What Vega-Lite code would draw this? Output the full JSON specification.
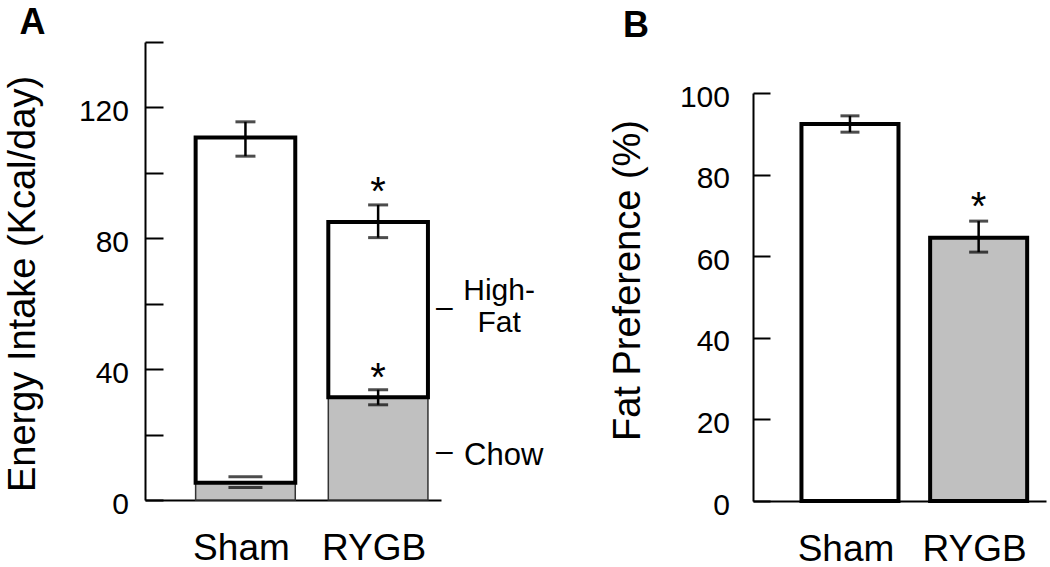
{
  "$schema": "https://vega.github.io/schema/vega-lite/v6.json",
  "background": "white",
  "padding": {"left": 4, "top": 5, "right": 5, "bottom": 5},
  "bounds": "flush",
  "spacing": 312,
  "config": {
    "font": "Liberation Sans",
    "view": {"stroke": null},
    "axis": {
      "domainColor": "black", "domainWidth": 2, "tickColor": "black", "tickWidth": 2,
      "labelColor": "black", "titleColor": "black", "grid": false,
      "labelFont": "Liberation Sans", "titleFont": "Liberation Sans", "titleFontWeight": "normal"
    }
  },
  "datasets": {
    "intake": [
      {"group": "Sham", "chow": 5.3, "chow_lo": 3.8, "chow_hi": 7.1, "total": 110.8, "total_lo": 105.1, "total_hi": 115.6},
      {"group": "RYGB", "chow": 31.4, "chow_lo": 29.1, "chow_hi": 33.7, "total": 85.0, "total_lo": 80.2, "total_hi": 90.2}
    ],
    "pref": [
      {"group": "Sham", "pref": 92.4, "lo": 90.4, "hi": 94.4},
      {"group": "RYGB", "pref": 64.5, "lo": 61.0, "hi": 68.6}
    ],
    "diet": [
      {"diet": "High-Fat", "label": ["High-", "Fat"], "pos": 58.4},
      {"diet": "Chow", "label": "Chow", "pos": 14.5}
    ]
  },
  "hconcat": [
    {
      "width": 296,
      "height": 458,
      "title": {"text": "A", "anchor": "start", "frame": "group", "dx": -125.5, "offset": -29, "baseline": "alphabetic", "fontSize": 36, "fontWeight": "bold", "font": "Liberation Sans", "color": "black"},
      "layer": [
        {
          "data": {"name": "intake"},
          "mark": {"type": "bar", "fill": "#c0c0c0", "stroke": "#333333", "strokeWidth": 1.5},
          "encoding": {
            "x": {
              "field": "group", "type": "nominal", "sort": ["Sham", "RYGB"],
              "scale": {"type": "band", "paddingInner": 0.249, "paddingOuter": 0.24, "align": 0.795},
              "axis": {"title": null, "ticks": false, "labelFontSize": 37, "labelPadding": 30, "labelOffset": -4, "labelAngle": 0}
            },
            "y": {
              "field": "chow", "type": "quantitative",
              "scale": {"domain": [0, 140]},
              "axis": {
                "title": "Energy Intake (Kcal/day)", "titleFontSize": 38, "titlePadding": 36, "titleY": 241.5,
                "values": [0, 20, 40, 60, 80, 100, 120, 140],
                "labelExpr": "datum.value % 40 === 0 ? datum.label : ''",
                "labelFontSize": 30, "tickSize": -18, "labelPadding": 34.5, "labelOffset": 4
              }
            }
          }
        },
        {
          "data": {"name": "intake"},
          "mark": {"type": "bar", "fill": "white", "stroke": "black", "strokeWidth": 4},
          "encoding": {
            "x": {"field": "group", "type": "nominal", "sort": ["Sham", "RYGB"]},
            "y": {"field": "total", "type": "quantitative"},
            "y2": {"field": "chow"}
          }
        },
        {
          "data": {"name": "intake"},
          "mark": {"type": "rule", "color": "black", "strokeWidth": 2.5},
          "encoding": {
            "x": {"field": "group", "type": "nominal", "sort": ["Sham", "RYGB"]},
            "y": {"field": "total_lo", "type": "quantitative"},
            "y2": {"field": "total_hi"}
          }
        },
        {
          "data": {"name": "intake"},
          "mark": {"type": "tick", "color": "black", "thickness": 3, "size": 20},
          "encoding": {
            "x": {"field": "group", "type": "nominal", "sort": ["Sham", "RYGB"]},
            "y": {"field": "total_lo", "type": "quantitative"}
          }
        },
        {
          "data": {"name": "intake"},
          "mark": {"type": "tick", "color": "black", "thickness": 3, "size": 20},
          "encoding": {
            "x": {"field": "group", "type": "nominal", "sort": ["Sham", "RYGB"]},
            "y": {"field": "total_hi", "type": "quantitative"}
          }
        },
        {
          "data": {"name": "intake"},
          "transform": [{"filter": "datum.group === 'RYGB'"}],
          "mark": {"type": "rule", "color": "black", "strokeWidth": 2.5},
          "encoding": {
            "x": {"field": "group", "type": "nominal", "sort": ["Sham", "RYGB"]},
            "y": {"field": "chow_lo", "type": "quantitative"},
            "y2": {"field": "chow_hi"}
          }
        },
        {
          "data": {"name": "intake"},
          "mark": {"type": "tick", "color": "black", "thickness": 3},
          "encoding": {
            "x": {"field": "group", "type": "nominal", "sort": ["Sham", "RYGB"]},
            "y": {"field": "chow_lo", "type": "quantitative"},
            "size": {"condition": {"test": "datum.group === 'Sham'", "value": 34}, "value": 20}
          }
        },
        {
          "data": {"name": "intake"},
          "mark": {"type": "tick", "color": "black", "thickness": 3},
          "encoding": {
            "x": {"field": "group", "type": "nominal", "sort": ["Sham", "RYGB"]},
            "y": {"field": "chow_hi", "type": "quantitative"},
            "size": {"condition": {"test": "datum.group === 'Sham'", "value": 34}, "value": 20}
          }
        },
        {
          "data": {"name": "intake"},
          "transform": [{"filter": "datum.group === 'RYGB'"}],
          "mark": {"type": "text", "text": "*", "fontSize": 40, "font": "Liberation Sans", "color": "black", "baseline": "alphabetic", "dy": 0},
          "encoding": {
            "x": {"field": "group", "type": "nominal", "sort": ["Sham", "RYGB"]},
            "y": {"field": "total_hi", "type": "quantitative"}
          }
        },
        {
          "data": {"name": "intake"},
          "transform": [{"filter": "datum.group === 'RYGB'"}],
          "mark": {"type": "text", "text": "*", "fontSize": 40, "font": "Liberation Sans", "color": "black", "baseline": "alphabetic", "dy": 1},
          "encoding": {
            "x": {"field": "group", "type": "nominal", "sort": ["Sham", "RYGB"]},
            "y": {"field": "chow_hi", "type": "quantitative"}
          }
        },
        {
          "data": {"name": "diet"},
          "mark": {"type": "text", "text": "–", "fontSize": 30, "font": "Liberation Sans", "color": "black", "align": "left", "baseline": "alphabetic", "dx": 58, "dy": 8},
          "encoding": {
            "x": {"datum": "RYGB", "type": "nominal"},
            "y": {"field": "pos", "type": "quantitative"}
          }
        },
        {
          "data": {"name": "diet"},
          "transform": [{"filter": "datum.diet === 'High-Fat'"}],
          "mark": {"type": "text", "fontSize": 30, "font": "Liberation Sans", "color": "black", "align": "center", "baseline": "alphabetic", "lineHeight": 32, "dx": 121, "dy": -9},
          "encoding": {
            "x": {"datum": "RYGB", "type": "nominal"},
            "y": {"field": "pos", "type": "quantitative"},
            "text": {"field": "label"}
          }
        },
        {
          "data": {"name": "diet"},
          "transform": [{"filter": "datum.diet === 'Chow'"}],
          "mark": {"type": "text", "fontSize": 31, "font": "Liberation Sans", "color": "black", "align": "left", "baseline": "alphabetic", "dx": 86, "dy": 12},
          "encoding": {
            "x": {"datum": "RYGB", "type": "nominal"},
            "y": {"field": "pos", "type": "quantitative"},
            "text": {"field": "label"}
          }
        }
      ]
    },
    {
      "width": 293,
      "height": 459,
      "title": {"text": "B", "anchor": "start", "frame": "group", "dx": -130, "offset": -31, "baseline": "alphabetic", "fontSize": 36, "fontWeight": "bold", "font": "Liberation Sans", "color": "black"},
      "data": {"name": "pref"},
      "layer": [
        {
          "mark": {"type": "bar", "stroke": "black", "strokeWidth": 4},
          "encoding": {
            "x": {
              "field": "group", "type": "nominal", "sort": ["Sham", "RYGB"],
              "scale": {"type": "band", "paddingInner": 0.246, "paddingOuter": 0.2615, "align": 0.72},
              "axis": {"title": null, "ticks": false, "labelFontSize": 37, "labelPadding": 30, "labelOffset": -4, "labelAngle": 0}
            },
            "y": {
              "field": "pref", "type": "quantitative",
              "scale": {"domain": [0, 100], "range": [459, 51]},
              "axis": {
                "title": "Fat Preference (%)", "titleFontSize": 38, "titlePadding": 31.5, "titleY": 238,
                "values": [0, 20, 40, 60, 80, 100],
                "labelFontSize": 30, "tickSize": -17, "labelPadding": 40.5, "labelOffset": 4
              }
            },
            "fill": {
              "field": "group", "type": "nominal",
              "scale": {"domain": ["Sham", "RYGB"], "range": ["white", "#c0c0c0"]},
              "legend": null
            }
          }
        },
        {
          "mark": {"type": "rule", "color": "black", "strokeWidth": 2.5},
          "encoding": {
            "x": {"field": "group", "type": "nominal", "sort": ["Sham", "RYGB"]},
            "y": {"field": "lo", "type": "quantitative"},
            "y2": {"field": "hi"}
          }
        },
        {
          "mark": {"type": "tick", "color": "black", "thickness": 3, "size": 19},
          "encoding": {
            "x": {"field": "group", "type": "nominal", "sort": ["Sham", "RYGB"]},
            "y": {"field": "lo", "type": "quantitative"}
          }
        },
        {
          "mark": {"type": "tick", "color": "black", "thickness": 3, "size": 19},
          "encoding": {
            "x": {"field": "group", "type": "nominal", "sort": ["Sham", "RYGB"]},
            "y": {"field": "hi", "type": "quantitative"}
          }
        },
        {
          "transform": [{"filter": "datum.group === 'RYGB'"}],
          "mark": {"type": "text", "text": "*", "fontSize": 40, "font": "Liberation Sans", "color": "black", "baseline": "alphabetic", "dy": -1},
          "encoding": {
            "x": {"field": "group", "type": "nominal", "sort": ["Sham", "RYGB"]},
            "y": {"field": "hi", "type": "quantitative"}
          }
        }
      ]
    }
  ]
}
